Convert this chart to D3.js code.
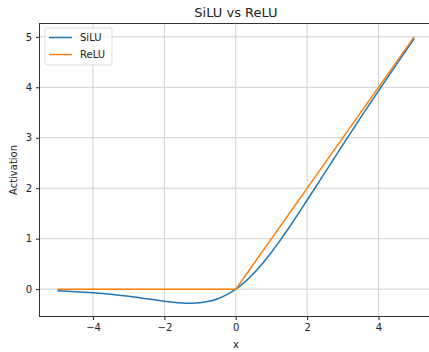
<!DOCTYPE html>
<html>
<head>
<meta charset="utf-8">
<title>SiLU vs ReLU</title>
<script src="https://d3js.org/d3.v7.min.js"></script>
<style>
body { margin: 0; background: #fff; }
svg text { font-family: "DejaVu Sans", sans-serif; fill: #222; }
.tick line { stroke: #222; }
.grid line { stroke: #d0d0d0; stroke-width: 1; }
</style>
</head>
<body>
<svg width="429" height="352"></svg>
<script>
// values
var siluX = [-5, -4.5, -4, -3.5, -3, -2.5, -2, -1.75, -1.5, -1.25, -1, -0.75, -0.5, -0.25, 0,
             0.25, 0.5, 0.75, 1, 1.25, 1.5, 1.75, 2, 2.5, 3, 3.5, 4, 4.5, 5];
var siluY = [-0.034, -0.05, -0.072, -0.102, -0.142, -0.19, -0.238, -0.26, -0.274, -0.278, -0.269, -0.24, -0.189, -0.11, 0,
             0.14, 0.311, 0.51, 0.731, 0.972, 1.226, 1.49, 1.762, 2.31, 2.858, 3.398, 3.928, 4.45, 4.967];
var reluX = [-5, 0, 5];
var reluY = [0, 0, 5];
var xTicks = [-4, -2, 0, 2, 4];
var yTicks = [0, 1, 2, 3, 4, 5];

var svg = d3.select("svg");
var padL = 39.5, padR = 432, padT = 23.5, padB = 316.5;

var x = d3.scaleLinear().domain([-5.5, 5.5]).range([padL, padR]);
var y = d3.scaleLinear().domain([-0.542, 5.264]).range([padB, padT]);

// grid
var grid = svg.append("g").attr("class", "grid");
grid.selectAll(".vx").data(xTicks).enter().append("line")
    .attr("x1", function(d) { return x(d); }).attr("x2", function(d) { return x(d); })
    .attr("y1", padT).attr("y2", padB);
grid.selectAll(".hy").data(yTicks).enter().append("line")
    .attr("x1", padL).attr("x2", padR)
    .attr("y1", function(d) { return y(d); }).attr("y2", function(d) { return y(d); });

var line = d3.line().x(function(d) { return x(d[0]); }).y(function(d) { return y(d[1]); });

svg.append("path")
    .datum(d3.zip(siluX, siluY))
    .attr("fill", "none").attr("stroke", "#1f77b4").attr("stroke-width", 1.5)
    .attr("d", line.curve(d3.curveCatmullRom));

svg.append("path")
    .datum(d3.zip(reluX, reluY))
    .attr("fill", "none").attr("stroke", "#ff7f0e").attr("stroke-width", 1.5)
    .attr("d", line.curve(d3.curveLinear));

// axes
svg.append("g").attr("transform", "translate(0," + padB + ")")
    .call(d3.axisBottom(x).tickValues(xTicks).tickSize(3.5).tickPadding(4)
      .tickFormat(function(d) { return d < 0 ? "\u2212" + Math.abs(d) : d; }));
svg.append("g").attr("transform", "translate(" + padL + ",0)")
    .call(d3.axisLeft(y).tickValues(yTicks).tickSize(3.5).tickPadding(4).tickFormat(d3.format("d")));
svg.selectAll(".domain").remove();
svg.selectAll(".tick text").attr("font-size", 10).attr("fill", "#222");

// frame
svg.append("rect").attr("x", padL).attr("y", padT)
    .attr("width", padR - padL).attr("height", padB - padT)
    .attr("fill", "none").attr("stroke", "#333").attr("stroke-width", 1);

svg.append("text").attr("x", 236).attr("y", 17).attr("text-anchor", "middle")
    .attr("font-size", 13).text("SiLU vs ReLU");
svg.append("text").attr("x", 236).attr("y", 348).attr("text-anchor", "middle")
    .attr("font-size", 10).text("x");
svg.append("text").attr("transform", "translate(17," + ((padT + padB) / 2) + ") rotate(-90)")
    .attr("text-anchor", "middle").attr("font-size", 10).text("Activation");

// legend
var names = ["SiLU", "ReLU"];
var colors = ["#1f77b4", "#ff7f0e"];
var lg = svg.append("g").attr("transform", "translate(45,28)");
lg.append("rect").attr("width", 67).attr("height", 37).attr("rx", 2)
    .attr("fill", "#fff").attr("fill-opacity", 0.8).attr("stroke", "#ddd");
names.forEach(function(n, i) {
  lg.append("line").attr("x1", 4).attr("x2", 27).attr("y1", 9.5 + i * 17).attr("y2", 9.5 + i * 17)
      .attr("stroke", colors[i]).attr("stroke-width", 1.5);
  lg.append("text").attr("x", 35).attr("y", 13 + i * 17).attr("font-size", 10).text(n);
});
</script>
</body>
</html>
